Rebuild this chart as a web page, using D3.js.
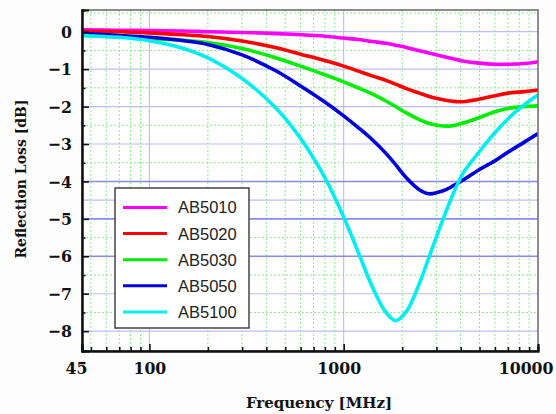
<!DOCTYPE html>
<html>
<head>
<meta charset="utf-8">
<script src="https://cdn.jsdelivr.net/npm/d3@7"></script>
<style>
  body { margin: 0; background: #fdfdfd; }
  svg { display: block; }
</style>
</head>
<body>
<svg id="chart"></svg>
<script>
// frequencies in MHz, shared by every series
const freqs = [45, 70, 100, 150, 200, 300, 450, 600, 800, 1000, 1200, 1400, 1650,
               1850, 2100, 2450, 2750, 3250, 3650, 4100, 5000, 6000, 7000, 8500, 10000];

// reflection loss in dB
const ab5010 = [0.05, 0.04, 0.03, 0.02, 0.0, -0.02, -0.05, -0.08, -0.12, -0.17, -0.21, -0.26, -0.31,
                -0.36, -0.42, -0.51, -0.57, -0.66, -0.72, -0.78, -0.84, -0.87, -0.87, -0.85, -0.8];
const ab5020 = [0.01, 0.0, -0.03, -0.08, -0.13, -0.25, -0.43, -0.6, -0.77, -0.92, -1.06, -1.18, -1.3,
                -1.4, -1.52, -1.64, -1.73, -1.82, -1.86, -1.87, -1.8, -1.71, -1.64, -1.6, -1.56];
const ab5030 = [-0.1, -0.14, -0.18, -0.23, -0.29, -0.45, -0.7, -0.92, -1.15, -1.34, -1.51, -1.66, -1.85,
                -2.0, -2.17, -2.35, -2.45, -2.52, -2.51, -2.44, -2.29, -2.14, -2.05, -2.0, -1.98];
const ab5050 = [-0.05, -0.1, -0.15, -0.24, -0.34, -0.62, -1.05, -1.45, -1.88, -2.25, -2.58, -2.88, -3.25,
                -3.55, -3.9, -4.22, -4.33, -4.25, -4.12, -3.97, -3.68, -3.45, -3.22, -2.95, -2.72];
const ab5100 = [-0.1, -0.15, -0.24, -0.45, -0.7, -1.25, -2.05, -2.85, -3.9, -4.95, -5.95, -6.8, -7.5,
                -7.72, -7.48, -6.73, -6.02, -5.0, -4.35, -3.79, -3.2, -2.7, -2.33, -1.95, -1.69];

const seriesNames = ["AB5010", "AB5020", "AB5030", "AB5050", "AB5100"];
const seriesValues = [ab5010, ab5020, ab5030, ab5050, ab5100];
const seriesColors = ["#ff00ff", "#ff0000", "#00ee00", "#0000dd", "#00eeee"];

const xTickValues = [45, 100, 1000, 10000];
const xMinorValues = [50, 60, 70, 80, 90, 200, 300, 400, 500, 600, 700, 800, 900,
                      2000, 3000, 4000, 5000, 6000, 7000, 8000, 9000];
const yTickValues = [0, -1, -2, -3, -4, -5, -6, -7, -8];
const yMinorValues = [0.5, -0.5, -1.5, -2.5, -3.5, -5.5, -6.5, -7.5];
const yStrongLines = [-4, -5, -6];
const yExtraLines = [-4.5];

const width = 556, height = 414;
const plot = { left: 82, right: 538, top: 10, bottom: 351 };

const svg = d3.select("#chart")
    .attr("width", width)
    .attr("height", height)
    .attr("viewBox", [0, 0, width, height]);

const x = d3.scaleLog().domain([45, 10000]).range([plot.left, plot.right]);
const y = d3.scaleLinear().domain([-8.53, 0.58]).range([plot.bottom, plot.top]);

svg.append("rect")
    .attr("x", plot.left).attr("y", plot.top)
    .attr("width", plot.right - plot.left).attr("height", plot.bottom - plot.top)
    .attr("fill", "#fff");

// green dotted minor grid
const grid = svg.append("g");
grid.selectAll("line.vminor")
    .data(xMinorValues)
    .join("line")
    .attr("x1", d => x(d)).attr("x2", d => x(d))
    .attr("y1", plot.top).attr("y2", plot.bottom)
    .attr("stroke", "#8ee88e").attr("stroke-width", 1)
    .attr("stroke-dasharray", "2,2");
grid.selectAll("line.hminor")
    .data(yMinorValues)
    .join("line")
    .attr("x1", plot.left).attr("x2", plot.right)
    .attr("y1", d => y(d)).attr("y2", d => y(d))
    .attr("stroke", "#8ee88e").attr("stroke-width", 1)
    .attr("stroke-dasharray", "2,2");

// blue major grid
grid.selectAll("line.vmajor")
    .data([100, 1000])
    .join("line")
    .attr("x1", d => x(d)).attr("x2", d => x(d))
    .attr("y1", plot.top).attr("y2", plot.bottom)
    .attr("stroke", "#b4b4f4").attr("stroke-width", 1);
grid.selectAll("line.hmajor")
    .data(yTickValues.concat(yExtraLines))
    .join("line")
    .attr("x1", plot.left).attr("x2", plot.right)
    .attr("y1", d => y(d)).attr("y2", d => y(d))
    .attr("stroke", d => yStrongLines.includes(d) ? "#8a8aee" : "#bcbcf6")
    .attr("stroke-width", d => yStrongLines.includes(d) ? 1.6 : 1.2);

// curves
svg.append("clipPath").attr("id", "clip")
    .append("rect")
    .attr("x", plot.left).attr("y", plot.top)
    .attr("width", plot.right - plot.left).attr("height", plot.bottom - plot.top);

const line = d3.line()
    .x((d, i) => x(freqs[i]))
    .y(d => y(d))
    .curve(d3.curveCatmullRom.alpha(0.5));

svg.append("g")
    .attr("clip-path", "url(#clip)")
    .selectAll("path")
    .data(seriesValues)
    .join("path")
    .attr("fill", "none")
    .attr("stroke", (d, i) => seriesColors[i])
    .attr("stroke-width", 3.6)
    .attr("stroke-linejoin", "round")
    .attr("d", line);

// frame: grey top/right, black left/bottom
svg.append("rect")
    .attr("x", plot.left).attr("y", plot.top)
    .attr("width", plot.right - plot.left).attr("height", plot.bottom - plot.top)
    .attr("fill", "none").attr("stroke", "#707070").attr("stroke-width", 1.6);

const tickFont = "DejaVu Serif Condensed, DejaVu Serif, serif";
const fmt = d => d === 0 ? "0" : "\u2212" + Math.abs(d);

const yAxis = svg.append("g")
    .attr("transform", `translate(${plot.left},0)`)
    .call(d3.axisLeft(y).tickValues(yTickValues).tickSize(-7).tickPadding(10).tickFormat(fmt));
const yMinor = svg.append("g")
    .attr("transform", `translate(${plot.left},0)`)
    .call(d3.axisLeft(y).tickValues(yMinorValues.filter(d => d < 0)).tickSize(-3.5).tickFormat(""));

const xAxis = svg.append("g")
    .attr("transform", `translate(0,${plot.bottom})`)
    .call(d3.axisBottom(x).tickValues(xTickValues).tickSize(-7).tickPadding(11).tickFormat(d3.format("d")));
const xMinor = svg.append("g")
    .attr("transform", `translate(0,${plot.bottom})`)
    .call(d3.axisBottom(x).tickValues(xMinorValues).tickSize(-4).tickFormat(""));

[yAxis, yMinor, xAxis, xMinor].forEach(g => {
    g.select(".domain").attr("stroke", "#111").attr("stroke-width", 2);
    g.selectAll(".tick line").attr("stroke", "#111").attr("stroke-width", 1.6);
    g.selectAll("text")
        .attr("fill", "#111")
        .style("font-family", tickFont)
        .style("font-weight", "bold")
        .style("font-size", "17.5px");
});

// nudge a few bottom labels the way the source did
xAxis.selectAll(".tick text")
    .attr("dx", d => d === 45 ? -6 : d === 1000 ? -5 : 0)
    .attr("text-anchor", d => d === 10000 ? "end" : "middle")
    .attr("x", d => d === 10000 ? 15 : 0);

// axis titles
svg.append("text")
    .attr("x", 319).attr("y", 408)
    .attr("text-anchor", "middle")
    .style("font-family", "DejaVu Serif, serif")
    .style("font-weight", "bold")
    .style("font-size", "15px")
    .attr("fill", "#111")
    .text("Frequency [MHz]");

svg.append("text")
    .attr("transform", "translate(26,179) rotate(-90)")
    .attr("text-anchor", "middle")
    .style("font-family", "DejaVu Serif, serif")
    .style("font-weight", "bold")
    .style("font-size", "14px")
    .attr("fill", "#111")
    .text("Reflection Loss [dB]");

// legend
const legend = svg.append("g").attr("transform", "translate(115,188)");
legend.append("rect")
    .attr("width", 134).attr("height", 140)
    .attr("fill", "#fff").attr("stroke", "#444").attr("stroke-width", 1.5);
const rows = legend.selectAll("g.row")
    .data(seriesNames)
    .join("g")
    .attr("transform", (d, i) => `translate(0,${19.5 + i * 26.1})`);
rows.append("line")
    .attr("x1", 8).attr("x2", 52)
    .attr("stroke", (d, i) => seriesColors[i])
    .attr("stroke-width", 3);
rows.append("text")
    .attr("x", 63).attr("dy", "0.36em")
    .style("font-family", "Liberation Sans, Arial, sans-serif")
    .style("font-size", "16.5px")
    .attr("fill", "#222")
    .text(d => d);
</script>
</body>
</html>
